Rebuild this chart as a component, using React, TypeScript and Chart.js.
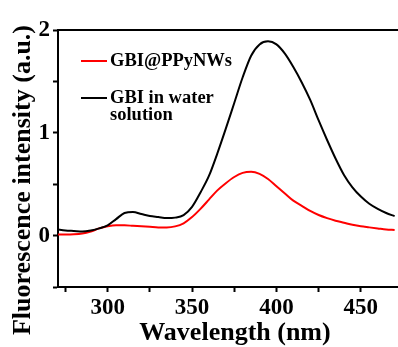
import React, { useEffect, useRef } from "react";
import { Chart, registerables } from "chart.js";

Chart.register(...registerables);

const wavelengths = [270, 275, 280, 285, 290, 295, 300, 305, 310, 315, 320, 325, 330, 335, 340, 345, 350, 355, 360, 365, 370, 375, 380, 385, 390, 395, 400, 405, 410, 415, 420, 425, 430, 435, 440, 445, 450, 455, 460, 465, 470];
const gbiWater = [0.06, 0.05, 0.045, 0.04, 0.05, 0.07, 0.1, 0.16, 0.22, 0.23, 0.21, 0.19, 0.18, 0.17, 0.175, 0.2, 0.28, 0.42, 0.58, 0.8, 1.04, 1.29, 1.54, 1.75, 1.86, 1.89, 1.86, 1.77, 1.64, 1.49, 1.32, 1.12, 0.93, 0.75, 0.59, 0.47, 0.38, 0.31, 0.26, 0.22, 0.19];
const gbiPPy = [0.01, 0.01, 0.012, 0.02, 0.04, 0.07, 0.09, 0.1, 0.1, 0.095, 0.09, 0.085, 0.08, 0.08, 0.09, 0.12, 0.18, 0.26, 0.35, 0.44, 0.51, 0.57, 0.61, 0.62, 0.6, 0.55, 0.48, 0.41, 0.34, 0.29, 0.24, 0.2, 0.17, 0.145, 0.125, 0.105, 0.09, 0.08, 0.07, 0.06, 0.055];
const xMajorTicks = [300, 350, 400, 450];
const xMinorTicks = [275, 325, 375, 425];
const yMajorTicks = [0, 1, 2];
const yMinorTicks = [-0.5, 0.5, 1.5];
const legendLabels = [["GBI@PPyNWs"], ["GBI in water", "solution"]];
const legendColors = ["#ff0000", "#000000"];
const xTitle = "Wavelength (nm)";
const yTitle = "Fluorescence intensity (a.u.)";

const FONT = "'Liberation Serif', 'Times New Roman', serif";

const decorPlugin = {
  id: "decor",
  afterDraw(chart: any) {
    const { ctx, chartArea } = chart;
    ctx.save();
    // top border
    ctx.strokeStyle = "#000";
    ctx.lineWidth = 2;
    ctx.beginPath();
    ctx.moveTo(chartArea.left - 1, chartArea.top);
    ctx.lineTo(chartArea.right, chartArea.top);
    ctx.stroke();

    // legend
    const lx0 = chartArea.left + 23;
    const lx1 = chartArea.left + 49;
    const rows = [61, 98];
    ctx.font = `bold 18.5px ${FONT}`;
    ctx.textBaseline = "middle";
    ctx.textAlign = "left";
    legendLabels.forEach((lines, i) => {
      const y = rows[i];
      ctx.strokeStyle = legendColors[i];
      ctx.lineWidth = 2;
      ctx.beginPath();
      ctx.moveTo(lx0, y);
      ctx.lineTo(lx1, y);
      ctx.stroke();
      ctx.fillStyle = "#000";
      lines.forEach((t, j) => {
        ctx.fillText(t, lx1 + 3, y + j * 17);
      });
    });

    // axis titles
    ctx.fillStyle = "#000";
    ctx.font = `bold 26px ${FONT}`;
    ctx.textAlign = "center";
    ctx.textBaseline = "alphabetic";
    ctx.fillText(xTitle, 235, 340);
    ctx.translate(30, 180);
    ctx.rotate(-Math.PI / 2);
    ctx.font = `bold 26px ${FONT}`;
    ctx.fillText(yTitle, 0, 0);
    ctx.restore();
  },
};

export default function App() {
  const ref = useRef<HTMLCanvasElement | null>(null);
  useEffect(() => {
    if (!ref.current) return;
    const black = wavelengths.map((x, i) => ({ x, y: gbiWater[i] }));
    const red = wavelengths.map((x, i) => ({ x, y: gbiPPy[i] }));
    const tickFont = { family: FONT, size: 23, weight: "bold" as const };
    const chart = new Chart(ref.current, {
      type: "line",
      data: {
        datasets: [
          { data: black, borderColor: "#000000", borderWidth: 2, pointRadius: 0, cubicInterpolationMode: "monotone", fill: false },
          { data: red, borderColor: "#ff0000", borderWidth: 2, pointRadius: 0, cubicInterpolationMode: "monotone", fill: false },
        ],
      },
      options: {
        animation: false,
        responsive: false,
        events: [],
        layout: { padding: { top: 30, left: 0, right: 0, bottom: 0 } },
        plugins: { legend: { display: false }, tooltip: { enabled: false }, title: { display: false } },
        scales: {
          x: {
            type: "linear",
            min: 270.6,
            max: 472,
            afterFit: (s: any) => { s.height = 60; },
            afterBuildTicks: (s: any) => {
              s.ticks = [...xMajorTicks, ...xMinorTicks].sort((a, b) => a - b).map((v) => ({ value: v }));
            },
            ticks: {
              autoSkip: false,
              maxRotation: 0,
              color: "#000",
              font: tickFont,
              padding: 2,
              callback: (v: any) => (xMajorTicks.includes(Number(v)) ? String(v) : ""),
            },
            grid: { drawOnChartArea: false, drawTicks: true, tickLength: 5, tickWidth: 2, color: "#000" },
            border: { display: true, color: "#000", width: 2 },
          },
          y: {
            type: "linear",
            min: -0.5,
            max: 2,
            afterFit: (s: any) => { s.width = 58; },
            afterBuildTicks: (s: any) => {
              s.ticks = [...yMajorTicks, ...yMinorTicks].sort((a, b) => a - b).map((v) => ({ value: v }));
            },
            ticks: {
              autoSkip: false,
              color: "#000",
              font: tickFont,
              padding: 3,
              callback: (v: any) => (yMajorTicks.includes(Number(v)) ? String(v) : ""),
            },
            grid: { drawOnChartArea: false, drawTicks: true, tickLength: 5, tickWidth: 2, color: "#000" },
            border: { display: true, color: "#000", width: 2 },
          },
        },
      },
      plugins: [decorPlugin],
    });
    return () => chart.destroy();
  }, []);
  return (
    <div style={{ position: "fixed", left: 0, top: 0, width: 398, height: 347, background: "#fff" }}>
      <canvas ref={ref} width={398} height={347} style={{ width: 398, height: 347 }} />
    </div>
  );
}
